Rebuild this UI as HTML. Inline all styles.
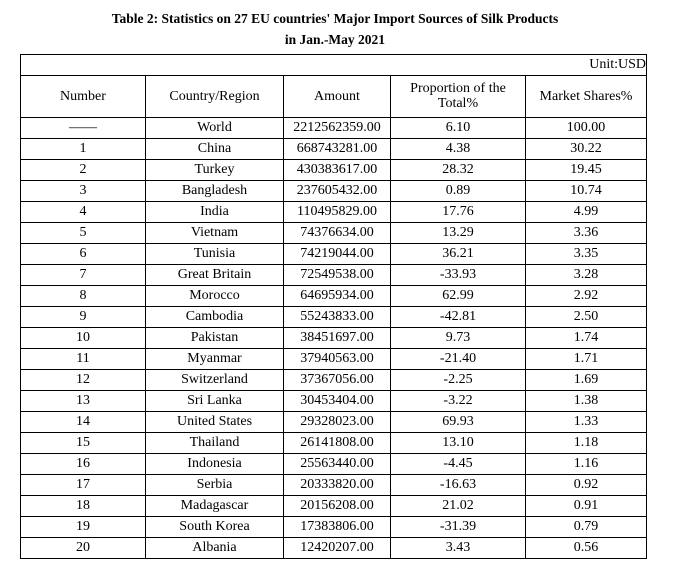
<!DOCTYPE html><html><head><style>
body{margin:0;background:#fff;width:686px;height:577px;position:relative;font-family:"Liberation Serif",serif;color:#000}
.t{position:absolute;left:0;width:670px;text-align:center;font-weight:bold;font-size:13.5px;line-height:21px;top:8px}
table{position:absolute;left:20px;top:54px;border-collapse:collapse;font-size:14px}
td{border:1.3px solid #000;text-align:center;height:20px;padding:0;line-height:15px}
</style></head><body>
<div class="t">Table 2: Statistics on 27 EU countries' Major Import Sources of Silk Products<br>in Jan.-May 2021</div>
<table>
<colgroup><col style="width:125px"><col style="width:138px"><col style="width:107px"><col style="width:135px"><col style="width:121px"></colgroup>
<tr><td colspan="5" style="text-align:right;height:19.5px">Unit:USD</td></tr>
<tr><td style="height:41px">Number</td><td>Country/Region</td><td>Amount</td><td>Proportion of the<br>Total%</td><td>Market Shares%</td></tr>
<tr><td>——</td><td>World</td><td>2212562359.00</td><td>6.10</td><td>100.00</td></tr>
<tr><td>1</td><td>China</td><td>668743281.00</td><td>4.38</td><td>30.22</td></tr>
<tr><td>2</td><td>Turkey</td><td>430383617.00</td><td>28.32</td><td>19.45</td></tr>
<tr><td>3</td><td>Bangladesh</td><td>237605432.00</td><td>0.89</td><td>10.74</td></tr>
<tr><td>4</td><td>India</td><td>110495829.00</td><td>17.76</td><td>4.99</td></tr>
<tr><td>5</td><td>Vietnam</td><td>74376634.00</td><td>13.29</td><td>3.36</td></tr>
<tr><td>6</td><td>Tunisia</td><td>74219044.00</td><td>36.21</td><td>3.35</td></tr>
<tr><td>7</td><td>Great Britain</td><td>72549538.00</td><td>-33.93</td><td>3.28</td></tr>
<tr><td>8</td><td>Morocco</td><td>64695934.00</td><td>62.99</td><td>2.92</td></tr>
<tr><td>9</td><td>Cambodia</td><td>55243833.00</td><td>-42.81</td><td>2.50</td></tr>
<tr><td>10</td><td>Pakistan</td><td>38451697.00</td><td>9.73</td><td>1.74</td></tr>
<tr><td>11</td><td>Myanmar</td><td>37940563.00</td><td>-21.40</td><td>1.71</td></tr>
<tr><td>12</td><td>Switzerland</td><td>37367056.00</td><td>-2.25</td><td>1.69</td></tr>
<tr><td>13</td><td>Sri Lanka</td><td>30453404.00</td><td>-3.22</td><td>1.38</td></tr>
<tr><td>14</td><td>United States</td><td>29328023.00</td><td>69.93</td><td>1.33</td></tr>
<tr><td>15</td><td>Thailand</td><td>26141808.00</td><td>13.10</td><td>1.18</td></tr>
<tr><td>16</td><td>Indonesia</td><td>25563440.00</td><td>-4.45</td><td>1.16</td></tr>
<tr><td>17</td><td>Serbia</td><td>20333820.00</td><td>-16.63</td><td>0.92</td></tr>
<tr><td>18</td><td>Madagascar</td><td>20156208.00</td><td>21.02</td><td>0.91</td></tr>
<tr><td>19</td><td>South Korea</td><td>17383806.00</td><td>-31.39</td><td>0.79</td></tr>
<tr><td>20</td><td>Albania</td><td>12420207.00</td><td>3.43</td><td>0.56</td></tr>
</table>
</body></html>
